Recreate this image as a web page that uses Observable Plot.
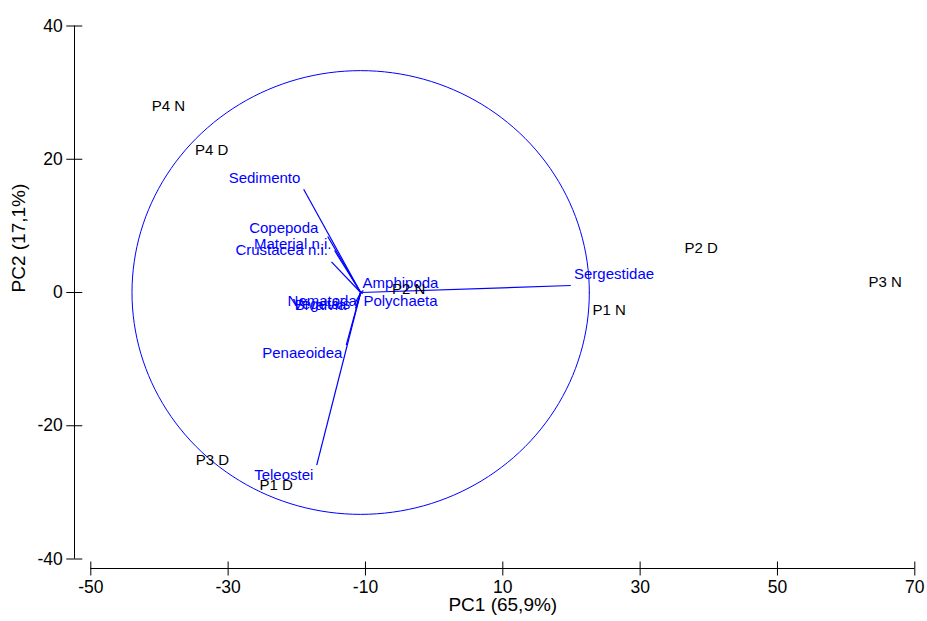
<!DOCTYPE html>
<html>
<head>
<meta charset="utf-8">
<script src="https://cdn.jsdelivr.net/npm/d3@7"></script>
<script src="https://cdn.jsdelivr.net/npm/@observablehq/plot@0.6"></script>
<style>
  html, body { margin: 0; padding: 0; background: #fff; }
  #chart svg { display: block; }
</style>
</head>
<body>
<div id="chart"></div>
<script>
// ---- data ----
const xTicks = [-50, -30, -10, 10, 30, 50, 70];
const yTicks = [-40, -20, 0, 20, 40];

const scoreLabels = ["P4 N", "P4 D", "P2 N", "P1 N", "P2 D", "P3 N", "P3 D", "P1 D"];
const scoreX = [-38.7, -32.4, -3.7, 25.5, 38.9, 65.7, -32.3, -23.0];
const scoreY = [27.9, 21.4, 0.45, -2.7, 6.7, 1.5, -25.2, -28.9];

const varNames = ["Sedimento", "Copepoda", "Material n.i.", "Crustacea n.i.", "Amphipoda", "Polychaeta",
                  "Nematoda", "Bivalvia", "Vegetais", "Penaeoidea", "Teleostei", "Sergestidae"];
const varX = [-19.0, -15.5, -14.5, -14.95, -10.3, -10.4, -11.6, -11.45, -11.3, -12.8, -17.1, 19.9];
const varY = [15.5, 8.4, 6.3, 4.6, 0.3, -0.2, -1.8, -2.4, -2.1, -7.9, -25.9, 1.05];
const varLabelX = [-24.7, -21.9, -20.6, -22.2, -4.9, -4.9, -16.3, -16.55, -16.4, -19.2, -21.9, 26.2];
const varLabelY = [17.1, 9.7, 7.2, 6.4, 1.35, -1.35, -1.35, -1.95, -1.8, -9.1, -27.4, 2.7];

const origin = [-10.7, 0];      // centre of the loading vectors / correlation circle
const circleRadius = 33.3;

// ---- derived tables ----
const scores = scoreLabels.map((s, i) => ({label: s, x: scoreX[i], y: scoreY[i]}));
const vars = varNames.map((s, i) => ({name: s, x: varX[i], y: varY[i], lx: varLabelX[i], ly: varLabelY[i]}));
const circle = d3.range(0, 361, 2).map(a => ({
  x: origin[0] + circleRadius * Math.cos(a * Math.PI / 180),
  y: origin[1] + circleRadius * Math.sin(a * Math.PI / 180)
}));

const blue = "#0000ff";
const font = "'Liberation Sans', Arial, sans-serif";

const chart = Plot.plot({
  width: 927,
  height: 621,
  marginLeft: 90.3,
  marginRight: 12.7,
  marginTop: 25.5,
  marginBottom: 62.5,
  style: {fontFamily: font, fontSize: "17px", background: "#fff", color: "#000"},
  x: {domain: [-50, 70], ticks: xTicks},
  y: {domain: [-40, 40], ticks: yTicks},
  marks: [
    // y axis (detached)
    Plot.ruleX([-50], {y1: -40, y2: 40, dx: -16.3, stroke: "#000", strokeWidth: 1}),
    Plot.axisY(yTicks, {anchor: "left", tickSize: 16, dx: -8, tickPadding: 4, fontSize: 17.5, label: null, tickFormat: d => String(d), stroke: "#000"}),
    // x axis (detached)
    Plot.ruleY([-40], {x1: -50, x2: 70, dy: 9.5, stroke: "#000", strokeWidth: 1}),
    Plot.axisX(xTicks, {anchor: "bottom", tickSize: 14, dy: 3, tickPadding: 5, fontSize: 17.5, label: null, tickFormat: d => String(d), stroke: "#000"}),
    // axis titles
    Plot.text(["PC1 (65,9%)"], {frameAnchor: "bottom", dy: 52, fontSize: 19, fill: "#000"}),
    Plot.text(["PC2 (17,1%)"], {frameAnchor: "left", dx: -72.3, rotate: -90, fontSize: 19, fill: "#000"}),
    // correlation circle
    Plot.line(circle, {x: "x", y: "y", stroke: blue, strokeWidth: 1, curve: "linear"}),
    // loading vectors
    Plot.link(vars, {x1: () => origin[0], y1: () => origin[1], x2: "x", y2: "y", stroke: blue, strokeWidth: 1.2}),
    Plot.text(vars, {x: "lx", y: "ly", text: "name", fill: blue, fontSize: 15}),
    // sample scores
    Plot.text(scores, {x: "x", y: "y", text: "label", fill: "#000", fontSize: 15})
  ]
});

document.getElementById("chart").appendChild(chart);
</script>
</body>
</html>
